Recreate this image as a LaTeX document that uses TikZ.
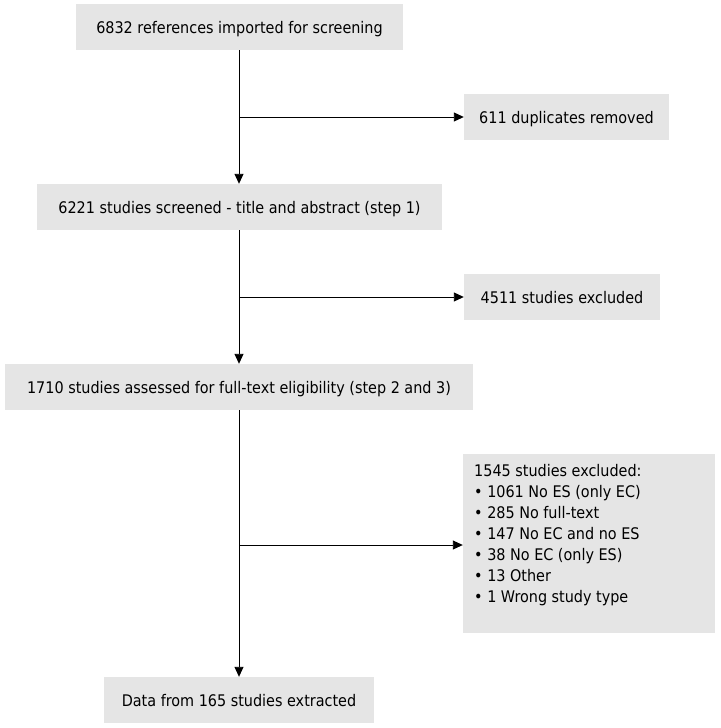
\documentclass[tikz,border=0pt]{standalone}
\usepackage{fontspec}
\setmainfont{DejaVu Sans Condensed}
\usetikzlibrary{arrows.meta}
\begin{document}
\begin{tikzpicture}[x=1pt,y=-1pt,
  box/.style={fill=black!10,inner sep=0pt,text height=12pt,text depth=0pt,font=\fontsize{16}{21}\selectfont},
  conn/.style={line width=0.9pt,-{Triangle[length=10pt,width=9pt]}}]
\useasboundingbox (0,0) rectangle (720,728);
\node[box,minimum width=327pt,minimum height=46pt] (b1) at (239.5,27) {6832 references imported for screening};
\node[box,minimum width=205pt,minimum height=46pt] (b2) at (566.5,117) {611 duplicates removed};
\node[box,minimum width=405pt,minimum height=46pt] (b3) at (239.5,207) {6221 studies screened - title and abstract (step 1)};
\node[box,minimum width=196pt,minimum height=46pt] (b4) at (562,297) {4511 studies excluded};
\node[box,minimum width=468pt,minimum height=46pt] (b5) at (239,387) {1710 studies assessed for full-text eligibility (step 2 and 3)};
\node[box,minimum width=252pt,minimum height=179pt] (b6) at (589,543.5) {};
\node[anchor=base west,inner sep=0pt,align=left,font=\fontsize{16}{21}\selectfont] (t6) at (474,602)
{1545 studies excluded:\\
• 1061 No ES (only EC)\\
• 285 No full-text\\
• 147 No EC and no ES\\
• 38 No EC (only ES)\\
• 13 Other\\
• 1 Wrong study type};
\node[box,minimum width=270pt,minimum height=46pt] (b7) at (239,700) {Data from 165 studies extracted};
\coordinate (j1) at (239,117);
\coordinate (j2) at (239,297);
\coordinate (j3) at (239,545);
\draw[conn] (b1.south -| j1) -- (b3.north -| j1);
\draw[conn] (j1) -- (j1 -| b2.west);
\draw[conn] (b3.south -| j2) -- (b5.north -| j2);
\draw[conn] (j2) -- (j2 -| b4.west);
\draw[conn] (b5.south -| j3) -- (b7.north -| j3);
\draw[conn] (j3) -- (j3 -| b6.west);
\end{tikzpicture}
\end{document}
